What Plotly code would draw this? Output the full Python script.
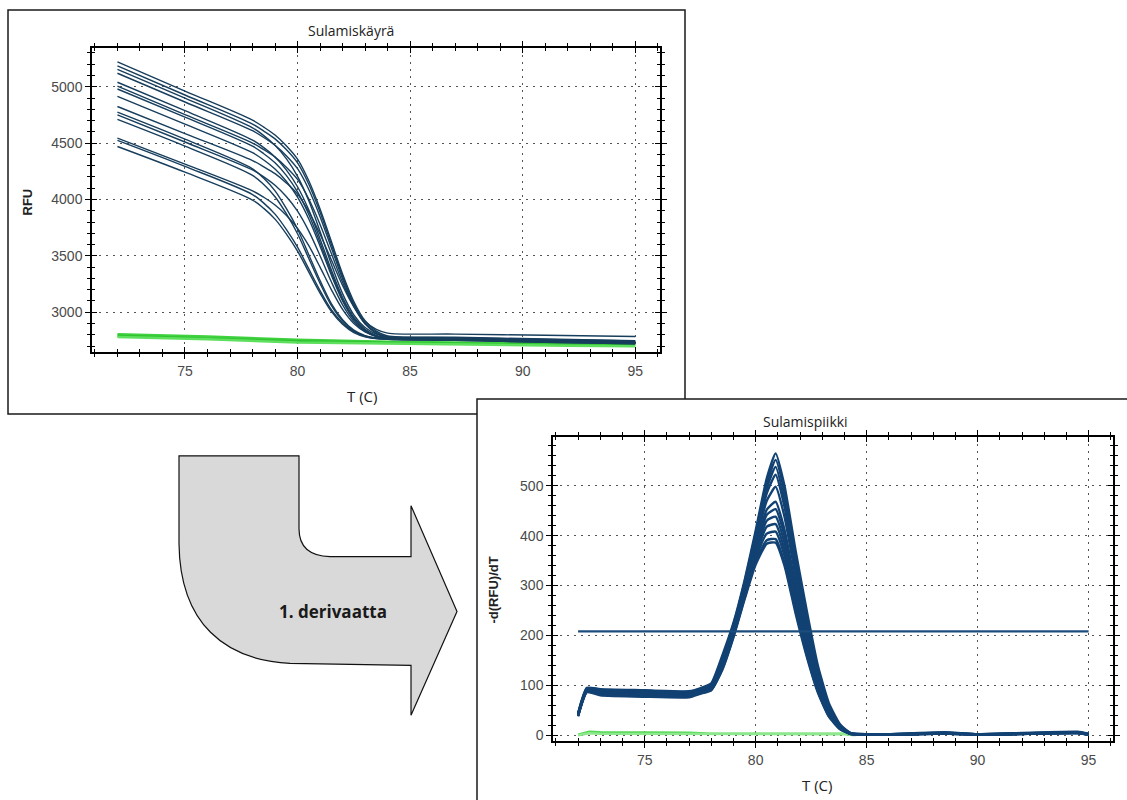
import plotly.graph_objects as go

W, H = 1127, 800

# ---------------- data: melt curve (Sulamiskäyrä) ----------------
T_melt = [72, 75, 78, 78.5, 79, 79.5, 80, 80.5, 81, 81.5, 82, 82.5, 83, 83.5, 84, 87, 91, 95]
rfu_01 = [5220, 4962, 4704, 4642, 4572, 4477, 4358, 4166, 3916, 3629, 3339, 3095, 2924, 2833, 2790, 2778, 2762, 2748]
rfu_02 = [5185, 4927, 4669, 4607, 4538, 4443, 4325, 4135, 3887, 3603, 3317, 3076, 2907, 2818, 2775, 2765, 2750, 2737]
rfu_03 = [5155, 4900, 4636, 4567, 4480, 4362, 4205, 3988, 3716, 3426, 3165, 2977, 2864, 2806, 2785, 2774, 2758, 2744]
rfu_04 = [5120, 4865, 4610, 4550, 4481, 4389, 4273, 4089, 3848, 3572, 3295, 3062, 2897, 2811, 2770, 2760, 2745, 2732]
rfu_05 = [5040, 4788, 4527, 4460, 4377, 4263, 4113, 3907, 3650, 3376, 3131, 2955, 2849, 2794, 2775, 2764, 2748, 2735]
rfu_06 = [5005, 4753, 4501, 4442, 4376, 4287, 4178, 4004, 3779, 3522, 3265, 3049, 2897, 2818, 2780, 2770, 2754, 2740]
rfu_07 = [4980, 4731, 4473, 4406, 4325, 4214, 4068, 3867, 3616, 3350, 3111, 2940, 2837, 2784, 2765, 2755, 2740, 2726]
rfu_08 = [4915, 4669, 4415, 4350, 4270, 4162, 4021, 3827, 3586, 3330, 3101, 2937, 2838, 2788, 2770, 2760, 2745, 2731]
rfu_09 = [4825, 4585, 4345, 4290, 4229, 4147, 4048, 3892, 3692, 3465, 3238, 3049, 2917, 2848, 2815, 2806, 2795, 2785]
rfu_10 = [4775, 4535, 4272, 4188, 4077, 3921, 3738, 3510, 3281, 3077, 2934, 2841, 2793, 2773, 2765, 2755, 2740, 2726]
rfu_11 = [4750, 4510, 4262, 4201, 4126, 4026, 3896, 3719, 3501, 3270, 3065, 2918, 2830, 2786, 2770, 2760, 2744, 2730]
rfu_12 = [4710, 4473, 4214, 4132, 4024, 3874, 3696, 3476, 3256, 3060, 2922, 2833, 2787, 2767, 2760, 2750, 2734, 2720]
rfu_13 = [4545, 4314, 4076, 4020, 3951, 3861, 3744, 3590, 3400, 3201, 3025, 2900, 2826, 2788, 2775, 2765, 2749, 2735]
rfu_14 = [4525, 4294, 4044, 3968, 3870, 3735, 3577, 3384, 3192, 3022, 2904, 2827, 2788, 2771, 2765, 2755, 2739, 2725]
rfu_15 = [4470, 4242, 3995, 3921, 3826, 3695, 3542, 3356, 3170, 3007, 2893, 2819, 2782, 2766, 2760, 2750, 2734, 2720]
rfu_curves = [rfu_01, rfu_02, rfu_03, rfu_04, rfu_05, rfu_06, rfu_07, rfu_08,
              rfu_09, rfu_10, rfu_11, rfu_12, rfu_13, rfu_14, rfu_15]

T_green = [72, 76, 80, 84, 88, 92, 95]
rfu_green_1 = [2805, 2785, 2755, 2738, 2728, 2720, 2715]
rfu_green_2 = [2792, 2770, 2742, 2728, 2718, 2710, 2705]
rfu_green_3 = [2780, 2760, 2732, 2720, 2710, 2702, 2698]
rfu_green = [rfu_green_1, rfu_green_2, rfu_green_3]

# ---------------- data: melt peak (Sulamispiikki) ----------------
T_deriv = [72, 72.4, 73, 75, 77, 77.5, 78, 78.5, 79, 79.5, 80, 80.5, 80.9, 81.3,
           81.8, 82.3, 82.8, 83.3, 83.8, 84.3, 86, 88.5, 90, 94.5, 95]
d_a = [44, 95, 92, 90, 88, 94, 104, 160, 225, 310, 410, 515, 565, 500, 370, 250, 140, 64, 22, 4, 2, 5, 2, 6, 2]
d_b = [43, 94, 91, 89, 87, 93, 102, 156, 222, 306, 404, 505, 552, 488, 358, 240, 132, 58, 20, 3, 1, 4, 1, 5, 1]
d_c = [42, 93, 90, 88, 86, 92, 100, 152, 219, 302, 398, 495, 538, 472, 345, 228, 124, 55, 18, 4, 2, 6, 2, 7, 3]
d_d = [42, 92, 89, 87, 85, 91, 99, 149, 216, 298, 392, 485, 522, 458, 333, 218, 118, 52, 17, 3, 1, 4, 1, 5, 1]
d_e = [41, 91, 88, 86, 84, 90, 97, 146, 213, 294, 386, 470, 498, 438, 318, 206, 112, 49, 16, 3, 2, 5, 2, 6, 2]
d_f = [41, 90, 87, 85, 83, 89, 96, 143, 210, 290, 378, 452, 468, 412, 300, 194, 105, 46, 15, 2, 1, 3, 1, 4, 1]
d_g = [40, 90, 86, 84, 82, 88, 95, 141, 207, 287, 372, 442, 453, 400, 290, 188, 102, 44, 15, 3, 1, 4, 1, 5, 2]
d_h = [40, 89, 85, 83, 81, 87, 94, 139, 205, 284, 366, 430, 438, 386, 280, 181, 98, 43, 14, 2, 1, 3, 1, 4, 1]
d_i = [39, 88, 84, 82, 80, 86, 93, 137, 203, 281, 360, 418, 423, 372, 270, 175, 95, 41, 14, 3, 2, 4, 2, 5, 2]
d_j = [39, 88, 83, 81, 79, 85, 92, 135, 200, 278, 354, 404, 408, 360, 260, 168, 91, 40, 13, 2, 1, 3, 1, 4, 1]
d_k = [38, 87, 82, 79, 78, 84, 91, 133, 198, 275, 348, 391, 393, 346, 250, 162, 88, 38, 13, 3, 1, 4, 1, 5, 2]
d_l = [38, 86, 80, 77, 76, 83, 90, 131, 196, 272, 342, 384, 386, 340, 244, 158, 86, 37, 12, 2, 1, 3, 1, 4, 1]
deriv_curves = [d_a, d_b, d_c, d_d, d_e, d_f, d_g, d_h, d_i, d_j, d_k, d_l]

T_deriv_green = [72, 72.5, 73, 75, 77, 78, 80, 82, 84, 84.5]
d_green_1 = [1, 7, 6, 6, 5, 3, 3, 4, 3, 1]
d_green_2 = [0, 4, 3, 3, 3, 2, 2, 3, 2, 0]

T_threshold = [72, 95]
threshold = [208, 208]

# ---------------- text ----------------
title_top = "Sulamiskäyrä"
title_bottom = "Sulamispiikki"
ylabel_top = "RFU"
ylabel_bottom = "-d(RFU)/dT"
xlabel = "T (C)"
arrow_label = "1. derivaatta"

# ---------------- figure ----------------
fig = go.Figure()

BLUE_TOP = "#173e5c"
BLUE_BOT = "#124273"

for g, c in zip(rfu_green, ["#3fd13f", "#2ec42e", "#5ee05e"]):
    fig.add_trace(go.Scatter(x=T_green, y=g, mode="lines", xaxis="x", yaxis="y",
                             line=dict(color=c, width=2.5), hoverinfo="skip"))
for r in rfu_curves:
    fig.add_trace(go.Scatter(x=T_melt, y=r, mode="lines", xaxis="x", yaxis="y",
                             line=dict(color=BLUE_TOP, width=1.4, shape="spline", smoothing=0.9),
                             hoverinfo="skip"))

for g, c in zip([d_green_1, d_green_2], ["#55d855", "#8ee88e"]):
    fig.add_trace(go.Scatter(x=T_deriv_green, y=g, mode="lines", xaxis="x2", yaxis="y2",
                             line=dict(color=c, width=2.5), hoverinfo="skip"))
for d in deriv_curves:
    fig.add_trace(go.Scatter(x=T_deriv, y=d, mode="lines", xaxis="x2", yaxis="y2",
                             line=dict(color=BLUE_BOT, width=2.4, shape="spline", smoothing=0.5),
                             hoverinfo="skip"))
fig.add_trace(go.Scatter(x=T_threshold, y=threshold, mode="lines", xaxis="x2", yaxis="y2",
                         line=dict(color="#1b4c7c", width=2.2), hoverinfo="skip"))

X_RANGE = [70.87, 96.1]
Y1_RANGE = [2646, 5345]
Y2_RANGE = [-12, 598]

# invisible anchors for the inner halves of the crossing ticks
fig.add_trace(go.Scatter(x=[80], y=[4000], mode="markers", marker=dict(opacity=0),
                         xaxis="x3", yaxis="y3", hoverinfo="skip"))
fig.add_trace(go.Scatter(x=[80], y=[300], mode="markers", marker=dict(opacity=0),
                         xaxis="x4", yaxis="y4", hoverinfo="skip"))


def px(x):
    return x / W


def py(y):
    return 1 - y / H


tickfont = dict(family="Liberation Sans, Arial", size=14, color="#4a4a4a")
common_axis = dict(
    showline=True, linecolor="black", linewidth=1.5, mirror="allticks",
    ticks="outside", ticklen=5, tickwidth=1.3, tickcolor="black",
    showgrid=True, gridcolor="#555555", gridwidth=1, griddash="2px,5px",
    zeroline=False, tickfont=tickfont,
)
inner_axis = dict(
    showline=True, linecolor="black", linewidth=1.5, mirror="allticks",
    ticks="inside", ticklen=5, tickwidth=1.3, tickcolor="black",
    showgrid=False, zeroline=False, showticklabels=False,
)


def minor(dt, ticks):
    return dict(dtick=dt, tick0=0, ticklen=3, ticks=ticks, tickcolor="black", showgrid=False)


xd1 = [px(92), px(660)]
yd1 = [py(353), py(48)]
xd2 = [px(553), px(1113)]
yd2 = [py(743), py(438)]

fig.update_layout(
    width=W, height=H,
    margin=dict(l=0, r=0, t=0, b=0),
    paper_bgcolor="white", plot_bgcolor="rgba(0,0,0,0)",
    showlegend=False,
    xaxis=dict(domain=xd1, range=X_RANGE, dtick=5, tick0=0, anchor="y",
               minor=minor(1, "outside"), **common_axis),
    yaxis=dict(domain=yd1, range=Y1_RANGE, dtick=500, tick0=0, anchor="x",
               minor=minor(100, "outside"), **common_axis),
    xaxis2=dict(domain=xd2, range=X_RANGE, dtick=5, tick0=0, anchor="y2",
                minor=minor(1, "outside"), **common_axis),
    yaxis2=dict(domain=yd2, range=Y2_RANGE, dtick=100, tick0=0, anchor="x2",
                minor=minor(20, "outside"), **common_axis),
    xaxis3=dict(domain=xd1, range=X_RANGE, dtick=5, tick0=0, anchor="y3", overlaying="x",
                minor=minor(1, "inside"), **inner_axis),
    yaxis3=dict(domain=yd1, range=Y1_RANGE, dtick=500, tick0=0, anchor="x3", overlaying="y",
                minor=minor(100, "inside"), **inner_axis),
    xaxis4=dict(domain=xd2, range=X_RANGE, dtick=5, tick0=0, anchor="y4", overlaying="x2",
                minor=minor(1, "inside"), **inner_axis),
    yaxis4=dict(domain=yd2, range=Y2_RANGE, dtick=100, tick0=0, anchor="x4", overlaying="y2",
                minor=minor(20, "inside"), **inner_axis),
)


def P(x, y):
    return f"{px(x):.5f},{py(y):.5f}"


arrow_path = (f"M {P(179,457)} L {P(299,457)} L {P(299,530)} Q {P(299,557)} {P(330,558)} "
              f"L {P(411,558)} L {P(411,507)} L {P(457,613)} L {P(411,717)} L {P(411,667)} "
              f"L {P(290,665)} C {P(225,662)} {P(180,625)} {P(179,545)} Z")

fig.update_layout(shapes=[
    dict(type="rect", xref="paper", yref="paper", x0=px(8), x1=px(685), y0=py(415), y1=py(10),
         line=dict(color="#1a1a1a", width=1.5), fillcolor="white", layer="below"),
    dict(type="rect", xref="paper", yref="paper", x0=px(477), x1=px(1140), y0=py(820), y1=py(400),
         line=dict(color="#1a1a1a", width=1.5), fillcolor="white", layer="below"),
    dict(type="path", xref="paper", yref="paper", path=arrow_path,
         line=dict(color="#111111", width=1.2), fillcolor="#d9d9d9", layer="below"),
])

title_font = dict(family="Open Sans, Noto Sans", size=14, color="#222222")
label_font = dict(family="Liberation Sans, Arial", size=13, color="#222222")
xlabel_font = dict(family="Open Sans, Noto Sans", size=15, color="#222222")


def ann(x, y, text, font, angle=0):
    return dict(x=px(x), y=py(y), xref="paper", yref="paper", text=text, showarrow=False,
                xanchor="center", yanchor="middle", font=font, textangle=angle)


fig.update_layout(annotations=[
    ann(351, 31, title_top, title_font),
    ann(805, 423, title_bottom, title_font),
    ann(27, 203, f"<b>{ylabel_top}</b>", label_font, -90),
    ann(494, 592, f"<b>{ylabel_bottom}</b>", label_font, -90),
    ann(362, 397, xlabel, xlabel_font),
    ann(817, 787, xlabel, xlabel_font),
    ann(333, 613, f"<b>{arrow_label}</b>", dict(family="Open Sans, Noto Sans", size=17, color="#1a1a1a")),
])

fig.write_html("out.html")
